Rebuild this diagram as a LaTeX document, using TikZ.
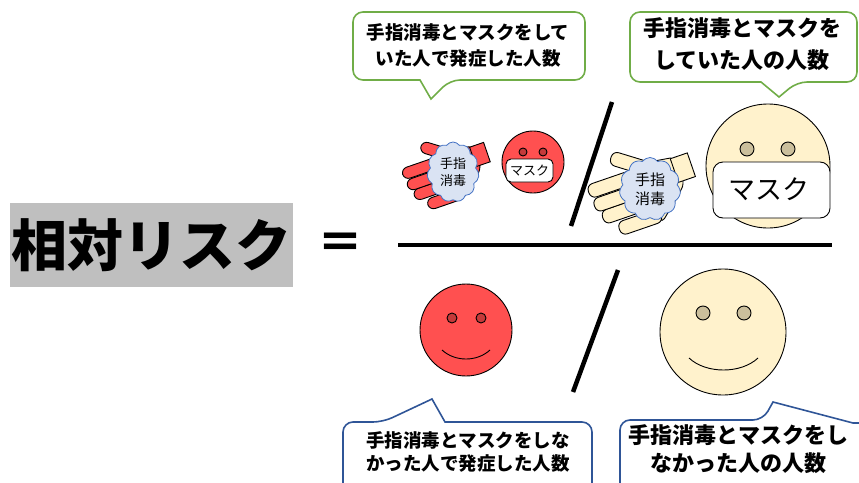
\documentclass[tikz,border=0pt]{standalone}
\usepackage{fontspec}
\setmainfont{Noto Sans CJK JP}
\usetikzlibrary{shapes.symbols}

\definecolor{facered}{HTML}{FF5050}
\definecolor{eyered}{HTML}{C43A3A}
\definecolor{skin}{HTML}{FFF2CC}
\definecolor{eyeskin}{HTML}{CBBF9C}
\definecolor{cloudfill}{HTML}{DAE3F3}
\definecolor{cloudline}{HTML}{4472C4}
\definecolor{tipgreen}{HTML}{70AD47}
\definecolor{tipblue}{HTML}{2F5597}
\definecolor{boxgray}{HTML}{BFBFBF}

\tikzset{
  outline/.style={draw=black, line width=0.9pt},
  bar/.style={line width=4.5pt},
  disinfect/.style={cloud, cloud puffs=11, cloud puff arc=110, cloud ignores aspect,
    fill=cloudfill, draw=cloudline, line width=0.8pt, inner sep=0pt, align=center},
  balloon/.style={line width=1.6pt, rounded corners=10pt},
  balloontext/.style={align=center, inner sep=0pt},
}

% hand seen from above, fingers to the left; #1 centre, #2 scale, #3 colour
\newcommand{\drawhand}[3]{%
  \begin{scope}[shift={#1}, y=1pt, rotate=19, scale=#2]
    \filldraw[outline, fill=#3, rounded corners=5pt] (0,-36) -- (24,-16) -- (34,-6) -- (34,22) -- (0,27) -- cycle;
    \filldraw[outline, fill=#3] (29,-3) rectangle (47,22);
    \foreach \yb/\yt/\tip in {-35/-21/-42, -19/-5/-54, -5/9/-58, 10/24/-59}
      \filldraw[outline, fill=#3, rounded corners=6pt] (\tip,\yb) rectangle (2,\yt);
    \filldraw[outline, fill=#3, rounded corners=6pt, shift={(4,20)}, rotate=144] (0,-7) rectangle (38,7);
  \end{scope}}

\begin{document}
\begin{tikzpicture}[x=1pt, y=-1pt]
  \useasboundingbox (0,0) rectangle (859,482);
  \clip (0,0) rectangle (859,482);

  % left hand side
  \node[fill=boxgray, minimum width=283pt, minimum height=84pt, inner sep=0pt,
    font=\bfseries\fontsize{56}{60}\selectfont] (rr) at (151.5,245) {相対リスク};
  \node[font=\bfseries\fontsize{46}{46}\selectfont] (eq) at (340,246) {＝};

  % fraction bar and slashes
  \coordinate (barL) at (398,245);
  \coordinate (barR) at (832,245);
  \draw[bar] (barL) -- (barR);
  \coordinate (topA) at (612,102);
  \coordinate (topB) at (571,226);
  \draw[bar] (topA) -- (topB);
  \coordinate (botA) at (618,270);
  \coordinate (botB) at (573,392);
  \draw[bar] (botA) -- (botB);

  % numerator: hands and masked faces
  \drawhand{(453,172)}{0.82}{facered}
  \node[disinfect, minimum width=52pt, minimum height=60pt,
    font=\fontsize{13}{17}\selectfont] (cloudA) at (453,172) {手指\\消毒};
  \drawhand{(650,189)}{1}{skin}
  \node[disinfect, minimum width=61pt, minimum height=63pt,
    font=\fontsize{15}{19}\selectfont] (cloudB) at (650,189) {手指\\消毒};

  \filldraw[outline, fill=facered] (533,162) circle (31);
  \filldraw[outline, fill=eyered] (523,152) circle (4);
  \filldraw[outline, fill=eyered] (543,152) circle (4);
  \filldraw[outline, fill=white, rounded corners=5pt] (506,159) rectangle (553,182);
  \node[font=\fontsize{13}{13}\selectfont] (maskA) at (529.5,171) {マスク};

  \filldraw[outline, fill=skin] (768,166) circle (62);
  \filldraw[outline, fill=eyeskin] (747,149) circle (7);
  \filldraw[outline, fill=eyeskin] (788,149) circle (7);
  \filldraw[outline, fill=white, rounded corners=10pt] (713,162) rectangle (830,218);
  \node[font=\fontsize{27}{27}\selectfont] (maskB) at (769,189) {マスク};

  % denominator: plain faces
  \filldraw[outline, fill=facered] (466,330) circle (46);
  \filldraw[outline, fill=eyered] (452,318) circle (5);
  \filldraw[outline, fill=eyered] (481,318) circle (5);
  \draw[outline] (442,350) .. controls (455,362) and (477,362) .. (490,350);

  \filldraw[outline, fill=skin] (723,332) circle (63);
  \filldraw[outline, fill=eyeskin] (703,313) circle (7);
  \filldraw[outline, fill=eyeskin] (744,313) circle (7);
  \draw[outline] (689,358) .. controls (706,374) and (741,374) .. (758,358);

  % speech balloons
  \node[balloontext, font=\bfseries\fontsize{18.5}{26}\selectfont] (noteA) at (468,45)
    {手指消毒とマスクをして\\いた人で発症した人数};
  \draw[balloon, draw=tipgreen] (469,12) -- (585,12) -- (585,80) -- (450,80)
    [sharp corners] -- (431,99) -- (420,80) [rounded corners=10pt] -- (353,80) -- (353,12) -- cycle;

  \node[balloontext, font=\bfseries\fontsize{22}{32}\selectfont] (noteB) at (742,44)
    {手指消毒とマスクを\\していた人の人数};
  \draw[balloon, draw=tipgreen] (743,12) -- (857,12) -- (857,82) -- (797,82)
    [sharp corners] -- (779,97) -- (761,82) [rounded corners=10pt] -- (630,82) -- (630,12) -- cycle;

  \node[balloontext, font=\bfseries\fontsize{18.5}{23}\selectfont] (noteC) at (468,451.5)
    {手指消毒とマスクをしな\\かった人で発症した人数};
  \draw[balloon, draw=tipblue] (343,500) -- (343,422) -- (383,422)
    [sharp corners] -- (432,399) -- (445,422) [rounded corners=10pt] -- (592,422) -- (592,500);

  \node[balloontext, font=\bfseries\fontsize{22}{28}\selectfont] (noteD) at (738.5,449)
    {手指消毒とマスクをし\\なかった人の人数};
  \draw[balloon, draw=tipblue] (620,500) -- (620,420) -- (763,420)
    [sharp corners] -- (773,402) -- (853,423) [rounded corners=10pt] -- (880,423) -- (880,500);
\end{tikzpicture}
\end{document}
